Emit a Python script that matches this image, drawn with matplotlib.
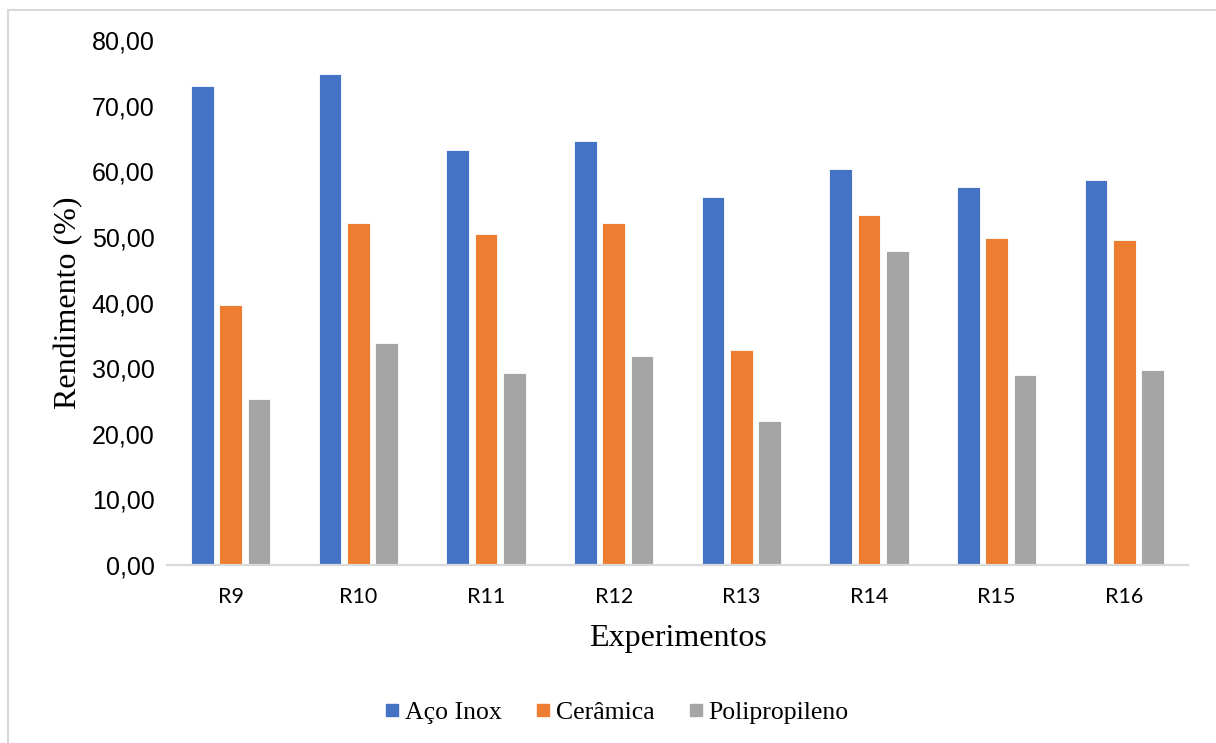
import matplotlib.pyplot as plt
import numpy as np
from matplotlib.lines import Line2D
from matplotlib.ticker import FuncFormatter

experimentos = ['R9', 'R10', 'R11', 'R12', 'R13', 'R14', 'R15', 'R16']
aco_inox = [73.0, 74.9, 63.2, 64.6, 56.1, 60.3, 57.6, 58.7]
ceramica = [39.6, 52.1, 50.5, 52.1, 32.7, 53.3, 49.9, 49.5]
polipropileno = [25.3, 33.9, 29.2, 31.9, 22.0, 47.8, 28.9, 29.7]

series = [('Aço Inox', aco_inox, '#4472C4'),
          ('Cerâmica', ceramica, '#ED7D31'),
          ('Polipropileno', polipropileno, '#A5A5A5')]

fig = plt.figure(figsize=(12.16, 7.43), dpi=100)
ax = fig.add_axes([0.1373, 0.2396, 0.8397, 0.7064])

x = np.arange(len(experimentos))
step = 0.222
width = 0.178
for i, (nome, vals, cor) in enumerate(series):
    ax.bar(x + (i - 1) * step, vals, width, color=cor, label=nome,
           edgecolor='white', linewidth=0.6)

ax.set_xlim(-0.5, len(experimentos) - 0.5)
ax.set_ylim(0, 80)
ax.set_yticks(np.arange(0, 81, 10))
ax.yaxis.set_major_formatter(FuncFormatter(lambda v, p: f'{v:.2f}'.replace('.', ',')))
ax.set_xticks(x)
ax.set_xticklabels(experimentos, fontfamily='Lato', fontsize=15.5)
for lbl in ax.get_yticklabels():
    lbl.set_fontfamily('Liberation Sans')
    lbl.set_fontsize(18)
ax.tick_params(axis='both', length=0)
ax.tick_params(axis='x', pad=16)
ax.tick_params(axis='y', pad=9)

for s in ['top', 'right', 'left']:
    ax.spines[s].set_visible(False)
ax.spines['bottom'].set_color('#D9D9D9')
ax.spines['bottom'].set_linewidth(1.6)

ax.set_xlabel('Experimentos', fontfamily='Liberation Serif', fontsize=23, labelpad=12)
ax.set_ylabel('Rendimento (%)', fontfamily='Liberation Serif', fontsize=23, labelpad=6)

handles = [Line2D([], [], marker='s', linestyle='none', markersize=9,
                  markerfacecolor=c, markeredgecolor=c) for _, _, c in series]
fig.legend(handles, [s[0] for s in series], loc='center', bbox_to_anchor=(0.505, 0.041),
           ncol=3, frameon=False, prop={'family': 'Liberation Serif', 'size': 18.5},
           handletextpad=0.0, columnspacing=1.1, handlelength=1.0)

# moldura externa: apenas topo e lado esquerdo
fig.add_artist(Line2D([8 / 1216, 8 / 1216], [0, 1 - 10 / 743], transform=fig.transFigure,
                      color='#D9D9D9', linewidth=1.5))
fig.add_artist(Line2D([8 / 1216, 1], [1 - 10 / 743, 1 - 10 / 743], transform=fig.transFigure,
                      color='#D9D9D9', linewidth=1.5))

fig.savefig('out.png', dpi=100)
